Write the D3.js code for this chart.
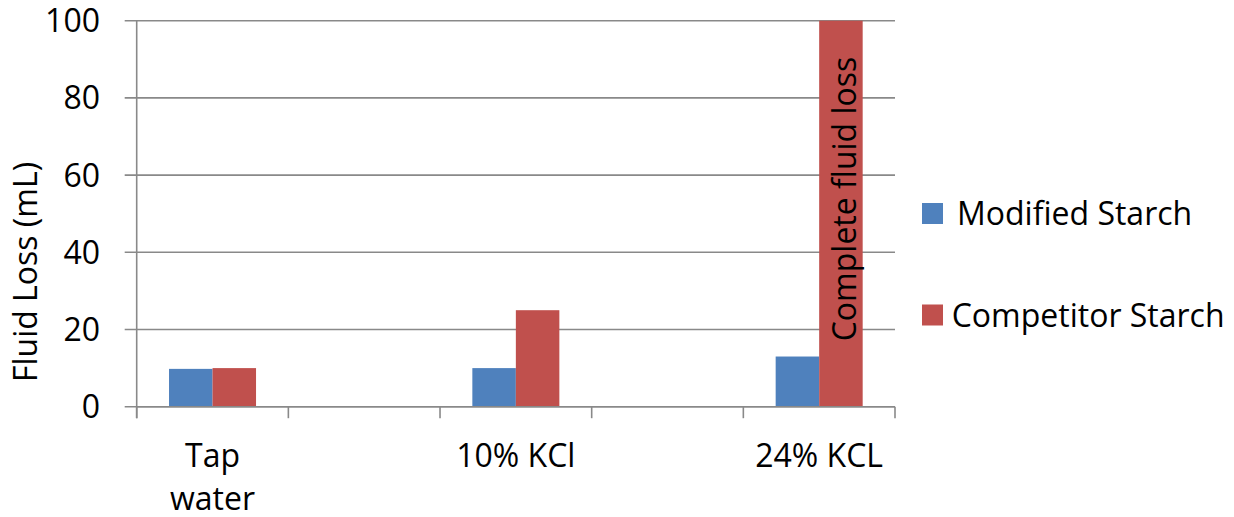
<!DOCTYPE html>
<html><head><meta charset="utf-8">
<script src="https://cdn.jsdelivr.net/npm/d3@7"></script>
<style>body{margin:0;background:#fff}svg{display:block}text{font-family:"Open Sans","Liberation Sans",sans-serif;fill:#000}</style>
</head><body>
<svg id="c" width="1234" height="517"></svg>
<script>
const categories = [["Tap","water"], [], ["10% KCl"], [], ["24% KCL"]];
const seriesNames = ["Modified Starch", "Competitor Starch"];
const modified = [9.8, null, 10, null, 13];
const competitor = [10, null, 25, null, 100];
const yTicks = [0, 20, 40, 60, 80, 100];
const colors = ["#4F81BD", "#C0504D"];
const annotation = "Complete fluid loss";

const svg = d3.select("#c");
const L = 136.7, R = 895, T = 20.7, B = 406.7;
const FS = 32;
const grid = "#898989";

const x = d3.scaleBand().domain(d3.range(categories.length)).range([L, R]).paddingInner(0).paddingOuter(0);
const y = d3.scaleLinear().domain([0, 100]).range([B, T]);
const inner = d3.scaleBand().domain([0, 1]).range([0, x.bandwidth()]).paddingInner(0).paddingOuter(0.743);

// gridlines
svg.append("g").selectAll("line").data(yTicks).join("line")
  .attr("x1", L - 12).attr("x2", R).attr("y1", d => y(d)).attr("y2", d => y(d))
  .attr("stroke", grid).attr("stroke-width", 1.6);
// y tick labels
svg.append("g").selectAll("text").data(yTicks).join("text")
  .attr("x", 100).attr("y", d => y(d)).attr("dy", "0.36em").attr("text-anchor", "end")
  .style("font-size", FS + "px").text(d => d);

// bars
const series = [modified, competitor];
series.forEach((vals, s) => {
  svg.append("g").selectAll("rect").data(vals.map((v, i) => ({v, i})).filter(d => d.v != null)).join("rect")
    .attr("x", d => x(d.i) + inner(s)).attr("width", inner.bandwidth())
    .attr("y", d => y(d.v)).attr("height", d => B - y(d.v))
    .attr("fill", colors[s]);
});

// axes lines
svg.append("line").attr("x1", L).attr("x2", L).attr("y1", T).attr("y2", B + 11.5).attr("stroke", grid).attr("stroke-width", 1.6);
svg.append("line").attr("x1", L).attr("x2", R).attr("y1", B).attr("y2", B).attr("stroke", grid).attr("stroke-width", 1.6);
const bounds = d3.range(categories.length + 1).map(i => i < categories.length ? x(i) : R);
svg.append("g").selectAll("line").data(bounds).join("line")
  .attr("x1", d => d).attr("x2", d => d).attr("y1", B).attr("y2", B + 11.5)
  .attr("stroke", grid).attr("stroke-width", 1.6);

// x labels
categories.forEach((lines, i) => {
  lines.forEach((t, k) => {
    svg.append("text").attr("x", x(i) + x.bandwidth() / 2).attr("y", 467 + k * 43)
      .attr("text-anchor", "middle").style("font-size", FS + "px").text(t);
  });
});

// annotation
const ai = 4;
const ax = x(ai) + inner(1) + inner.bandwidth() / 2;
svg.append("text").attr("transform", `translate(${ax + 15.5},199) rotate(-90)`)
  .attr("text-anchor", "middle").style("font-size", FS + "px").text(annotation);

// y title
svg.append("text").attr("transform", "translate(37,272) rotate(-90)").attr("text-anchor", "middle")
  .style("font-size", FS + "px").text("Fluid Loss (mL)");

// legend
const leg = [{y: 213.5, tx: 957}, {y: 315, tx: 951.7}];
seriesNames.forEach((n, s) => {
  svg.append("rect").attr("x", 922).attr("y", leg[s].y - 10.5).attr("width", 21).attr("height", 21).attr("fill", colors[s]);
  svg.append("text").attr("x", leg[s].tx).attr("y", leg[s].y).attr("dy", "0.36em").style("font-size", FS + "px").text(n);
});
</script>
</body></html>
